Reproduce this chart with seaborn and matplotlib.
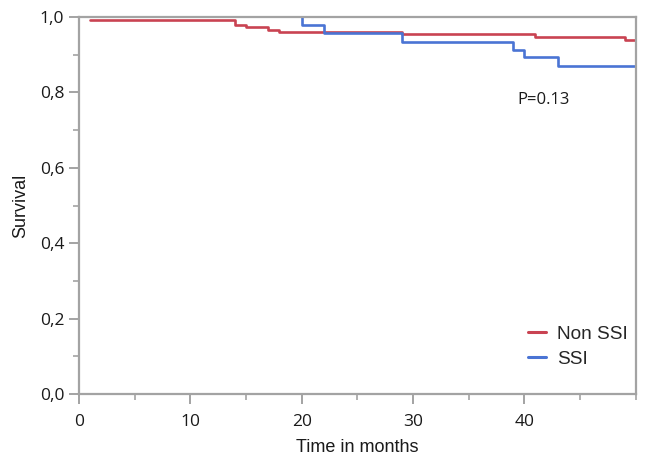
import matplotlib
matplotlib.use("Agg")
import matplotlib.pyplot as plt
import seaborn as sns
import pandas as pd
import numpy as np
from matplotlib.ticker import MultipleLocator, FuncFormatter

# Data (Kaplan-Meier step curves)
non_ssi_time = [1, 14, 15, 17, 18, 29, 41, 49, 50]
non_ssi_surv = [0.992, 0.979, 0.973, 0.967, 0.960, 0.955, 0.947, 0.939, 0.939]
ssi_time = [20, 20, 22, 29, 39, 40, 43, 50]
ssi_surv = [1.0, 0.979, 0.957, 0.935, 0.912, 0.893, 0.871, 0.871]
groups = ["Non SSI", "SSI"]
colors = ["#c94352", "#4a74d4"]
x_ticks = [0, 10, 20, 30, 40]
y_ticks = [0.0, 0.2, 0.4, 0.6, 0.8, 1.0]
p_text = "P=0.13"

df = pd.concat([
    pd.DataFrame({"time": non_ssi_time, "surv": non_ssi_surv, "group": groups[0]}),
    pd.DataFrame({"time": ssi_time, "surv": ssi_surv, "group": groups[1]}),
], ignore_index=True)

sns.set_theme(style="white")
plt.rcParams["font.family"] = ["Open Sans", "DejaVu Sans"]

fig = plt.figure(figsize=(6.5, 4.61), dpi=100)
ax = fig.add_axes([0.1215, 0.145, 0.8565, 0.818])

for g, c in zip(groups, colors):
    sub = df[df["group"] == g]
    sns.lineplot(data=sub, x="time", y="surv", ax=ax, color=c, lw=1.9,
                 drawstyle="steps-post", label=g, estimator=None, sort=False)

ax.set_xlim(0, 50)
ax.set_ylim(0, 1)
ax.set_xticks(x_ticks)
ax.set_yticks(y_ticks)
ax.xaxis.set_minor_locator(MultipleLocator(5))
ax.yaxis.set_minor_locator(MultipleLocator(0.1))
ax.yaxis.set_major_formatter(FuncFormatter(lambda v, p: f"{v:.1f}".replace(".", ",")))
ax.xaxis.set_major_formatter(FuncFormatter(lambda v, p: f"{v:.0f}"))

gray = "#a3a3a3"
for s in ax.spines.values():
    s.set_color(gray)
    s.set_linewidth(1.6)
    s.set_visible(True)
ax.tick_params(which="major", direction="out", length=7, width=1.4, color=gray,
               labelsize=12.5, labelcolor="#1a1a1a", bottom=True, left=True)
ax.tick_params(which="minor", direction="out", length=4, width=1.2, color=gray,
               bottom=True, left=True)
ax.tick_params(axis="x", pad=7)

ax.set_xlabel("Time in months", fontsize=13, family=["Liberation Sans"], color="#1a1a1a", labelpad=7)
ax.set_ylabel("Survival", fontsize=13, family=["Liberation Sans"], color="#1a1a1a", labelpad=8)

ax.text(39.4, 0.78, p_text, fontsize=12, color="#1a1a1a", va="center", ha="left")

leg = ax.legend(loc="lower right", frameon=False, prop={"family": "Liberation Sans", "size": 13.7},
                handlelength=0.95, handletextpad=0.6, labelspacing=0.4,
                bbox_to_anchor=(1.017, 0.024))
for h in leg.get_lines():
    h.set_linewidth(2.2)
ax.grid(False)

fig.savefig("out.png", dpi=100)
